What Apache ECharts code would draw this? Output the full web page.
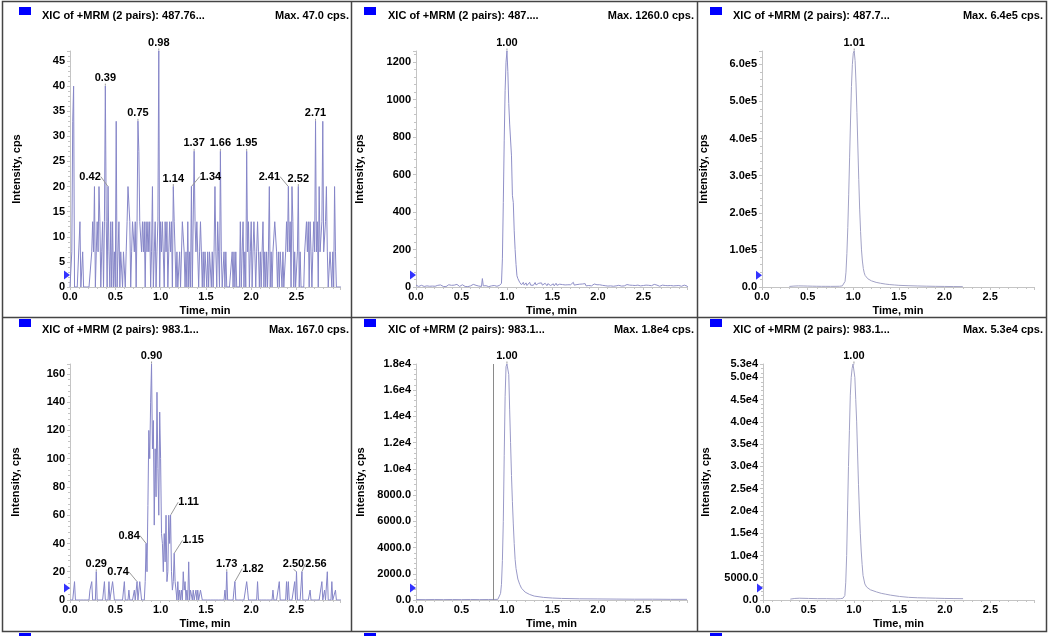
<!DOCTYPE html>
<html><head><meta charset="utf-8">
<script src="https://cdn.jsdelivr.net/npm/echarts@6/dist/echarts.min.js"></script>
<style>html,body{margin:0;padding:0;background:#fff}#c{width:1050px;height:636px}</style>
</head><body><div id="c"></div>
<script>
// ---------- DATA ----------
const TIME_START = 0.00, TIME_STEP = 0.01;
const xTickLabels = ['0.0','0.5','1.0','1.5','2.0','2.5'];
const panelTitles = ['XIC of +MRM (2 pairs): 487.76...','XIC of +MRM (2 pairs): 487....','XIC of +MRM (2 pairs): 487.7...',
                     'XIC of +MRM (2 pairs): 983.1...','XIC of +MRM (2 pairs): 983.1...','XIC of +MRM (2 pairs): 983.1...'];
const panelMaxTexts = ['Max. 47.0 cps.','Max. 1260.0 cps.','Max. 6.4e5 cps.','Max. 167.0 cps.','Max. 1.8e4 cps.','Max. 5.3e4 cps.'];
const yMaxes = [47, 1260, 636000, 167, 18000, 53000];
const yIntervals = [5, 200, 100000, 20, 2000, 5000];
const thresholds = [2.4, 64, 32000, 8.5, 915, 2700];

// panel 1 (sampled every 0.01 min)
const p1Values = [].concat(
 [0,0,7,33,40,0,0,0,0,0],[0,13,0,0,7,0,0,0,0,0],[0,0,0,0,7,13,7,20,0,7],[13,7,20,13,0,7,13,0,13,40],
 [13,0,20,7,0,13,0,13,0,7],[0,33,0,7,13,0,7,7,0,7],[7,0,7,13,20,20,13,0,7,13],[13,7,13,0,13,33,27,13,13,7],
 [13,7,13,0,13,7,13,7,13,0],[7,20,0,7,13,0,7,13,47,0],[13,7,13,13,0,13,7,13,0,7],[13,7,13,0,20,13,7,0,7,0],
 [0,7,0,0,13,13,7,0,7,0],[13,0,7,0,20,0,0,27,13,7],[13,13,0,7,13,7,0,7,0,7],[7,0,7,0,7,7,0,7,0,7],
 [20,7,0,13,7,0,27,7,0,0],[7,0,7,0,0,0,0,0,0,7],[0,7,0,7,0,0,0,0,13,0],[7,13,0,7,0,27,7,13,0,7],
 [13,0,7,13,7,0,7,13,7,0],[7,0,7,13,0,7,0,7,0,7],[20,0,7,0,7,7,13,13,7,0],[7,0,7,7,0,7,0,0,7,13],
 [7,20,7,13,0,20,13,0,7,0],[0,7,20,0,7,0,0,0,0,7],[7,13,7,13,0,13,7,0,7,13],[7,33,7,13,0,20,7,7,13,33],
 [7,7,13,20,7,0,0,7,7,0],[7,0,20,7,0,0,0,0,0,0]);
const p1Peaks = [[0.39,40],[0.42,20],[0.75,33],[0.98,47],[1.14,20],[1.34,20],[1.37,27],[1.66,27],[1.95,27],[2.41,20],[2.52,20],[2.71,33]];

// panel 2 (sampled every 0.01 min)
const p2Values = [].concat(
 [10,5,8,3,6,2,9,4,7,3],[5,2,6,8,3,4,10,2,5,7],[15,4,6,3,9,5,2,11,4,6],[3,8,5,2,7,4,12,3,6,9],
 [4,6,10,3,5,14,4,7,3,8],[5,12,4,6,3,9,5,2,8,4],[6,3,7,14,4,5,9,3,6,5],[4,8,3,45,6,2,5,7,3,4],
 [2,5,3,6,2,4,8,3,5,4],[6,3,9,5,20,150,450,780,1050,1200],[1260,1150,980,870,860,700,490,450,300,200],
 [120,60,45,35,25,20,12,18,25,10],[15,22,8,18,12,25,10,16,20,9],[14,24,11,18,8,20,15,12,22,10],
 [16,9,20,13,7,18,11,15,8,14],[10,17,6,14,20,9,12,7,15,11],[8,13,18,6,11,15,9,12,7,16],
 [12,6,14,25,10,17,8,13,20,9],[15,11,7,16,9,13,18,6,12,10],[8,14,10,6,13,9,16,11,7,12],
 [10,6,12,8,15,9,5,11,7,13],[9,5,11,14,6,10,8,4,12,7],[6,10,4,9,7,12,5,8,11,6],[9,5,13,7,4,10,18,6,9,12],
 [14,8,16,5,10,7,12,6,11,4],[8,12,5,10,15,6,9,13,4,7],[11,6,14,8,5,10,7,12,4,9],[6,10,5,13,8,4,11,7,9,5],
 [8,4,10,6,12,5,7,9,4,8],[5,9,4,7,6,10,3,8,5,0]);
const p2Peaks = [[1.00,1260]];

// panel 3
const p3Times = [0.30,0.35,0.40,0.45,0.50,0.55,0.60,0.65,0.70,0.75,0.80,0.85,0.88,0.90,0.91,0.92,0.93,0.94,0.95,0.96,0.97,0.98,0.99,1.00,1.01,1.02,1.03,1.04,1.05,1.06,1.07,1.08,1.09,1.10,1.11,1.12,1.13,1.14,1.16,1.18,1.20,1.25,1.30,1.35,1.40,1.45,1.50,1.60,1.70,1.80,1.90,2.00,2.10,2.20];
const p3Values = [1500,2500,3000,2800,2500,2200,2000,1800,1800,1700,1800,2000,3000,6000,15000,40000,90000,160000,250000,350000,450000,540000,600000,630000,636000,610000,550000,470000,380000,290000,210000,150000,100000,70000,50000,38000,31000,27000,22000,19000,16500,12500,10000,8000,6500,5500,4500,3500,2800,2200,1800,1500,1200,1000];
const p3Peaks = [[1.01,636000]];

// panel 4 (sampled every 0.01 min)
const p4Values = [].concat(
 [0,0,0,0,0,13,0,0,0,0],[0,0,0,0,0,0,0,0,0,0],[0,0,7,7,13,0,0,0,0,20],[0,0,0,0,0,0,0,0,13,0],
 [0,0,0,13,0,0,0,13,7,0],[0,0,0,0,0,0,0,0,0,0],[13,0,0,0,0,7,0,0,0,0],[0,7,0,0,13,0,0,13,13,0],
 [0,0,0,13,40,20,67,120,100,140],[167,107,127,53,107,73,147,93,60,133],[100,47,40,20,47,27,60,13,20,60],
 [40,60,20,7,13,33,13,7,0,13],[0,7,0,7,0,20,7,13,0,7],[0,27,0,7,7,0,7,0,0,7],[0,7,0,0,7,7,0,0,0,0],
 [0,0,0,0,0,0,0,0,0,0],[0,0,0,0,0,0,0,0,0,0],[0,7,0,20,0,0,0,0,0,0],[0,7,13,0,0,0,0,0,0,0],
 [0,0,0,0,0,13,7,0,0,0],[0,0,0,0,0,0,0,13,0,0],[0,0,0,0,0,0,0,0,0,0],[0,0,0,0,7,0,0,0,0,0],
 [0,13,0,0,0,0,0,0,0,13],[0,13,0,0,0,0,0,0,13,0],[20,0,0,0,0,0,20,0,0,0],[0,0,0,0,0,7,0,0,0,0],
 [0,0,0,0,0,0,0,0,13,0],[0,7,0,0,20,0,0,0,0,13],[0,0,0,7,0,0,0,0,0,0]);
const p4Peaks = [[0.29,20],[0.74,13],[0.84,40],[0.90,167],[1.11,60],[1.15,33],[1.73,20],[1.82,13],[2.50,20],[2.56,20]];

// panel 5
const p5Times = [0.00,0.10,0.20,0.30,0.40,0.50,0.60,0.70,0.80,0.85,0.90,0.92,0.93,0.94,0.95,0.96,0.97,0.98,0.99,1.00,1.01,1.02,1.03,1.04,1.05,1.06,1.07,1.08,1.09,1.10,1.12,1.14,1.16,1.18,1.20,1.25,1.30,1.40,1.50,1.60,1.80,2.00,2.20,2.40,2.60,2.80,2.98];
const p5Values = [40,30,40,30,40,30,40,30,40,40,50,200,500,1200,3000,6000,11000,15500,17800,18000,17900,17200,14500,12000,9500,7500,5800,4300,3100,2400,1600,1200,900,750,600,420,300,200,150,120,90,80,70,60,60,50,50];
const p5Marker = 0.855;
const p5Peaks = [[1.00,18000]];

// panel 6
const p6Times = [0.30,0.35,0.40,0.50,0.60,0.70,0.80,0.85,0.88,0.90,0.91,0.92,0.93,0.94,0.95,0.96,0.97,0.98,0.99,1.00,1.01,1.02,1.03,1.04,1.05,1.06,1.07,1.08,1.09,1.10,1.12,1.14,1.16,1.18,1.20,1.25,1.30,1.35,1.40,1.50,1.60,1.70,1.80,1.90,2.00,2.10,2.20];
const p6Values = [200,350,400,350,300,300,250,300,400,1000,4000,10000,20000,30000,38000,46000,50000,52000,53000,53000,50000,45000,40000,33000,26000,20000,15000,11000,8000,5500,3600,2900,2500,2300,2100,1800,1500,1300,1100,800,600,500,450,400,350,320,300];
const p6Peaks = [[1.00,53000]];

// ---------- BUILD ----------
function sampled(vals){ return vals.map((v,i)=>[+(TIME_START + i*TIME_STEP).toFixed(2), v]); }
function paired(ts, vs){ return ts.map((t,i)=>[t, vs[i]]); }
const traces = [sampled(p1Values), sampled(p2Values), paired(p3Times,p3Values), sampled(p4Values), paired(p5Times,p5Values), paired(p6Times,p6Values)];
const peaks = [p1Peaks, p2Peaks, p3Peaks, p4Peaks, p5Peaks, p6Peaks];

// layout (pixels)
const grids = [
 {left:70, top:51, width:270, height:236},
 {left:416,top:51, width:271, height:236},
 {left:762,top:51, width:272, height:236},
 {left:70, top:364,width:270, height:236},
 {left:416,top:364,width:271, height:236},
 {left:763,top:364,width:271, height:236}];
const yNameGaps = [48, 51, 53, 49, 50, 52];
const showMaxY = [false,false,false,false,true,true];
const titleLeft = [42, 388, 733, 42, 388, 733];
const titleRight = [701, 356, 7, 701, 356, 7];
const titleTop = [9, 9, 9, 323, 323, 323];
const squareX = [19, 364, 710];
const labelShift = { // panel index -> {time: [dx,dy]}
 0:{'0.42':[-18,-2],'1.34':[19,-2],'2.41':[-19,-2]},
 3:{'0.74':[-19,-2],'0.84':[-17,0],'1.11':[18,-5],'1.15':[19,-5],'1.82':[18,-5],'2.50':[-3,0],'2.56':[14,0]}
};
const traceColors = ['#8686c8','#9090c8','#a2a2c6','#8686c8','#9a9ac8','#a2a2c6'];

const FONT = '"Liberation Sans", Arial, sans-serif';
const AX = '#c4c4c4';

function yFmt(i){
  return function(v){
    if (i===2) return v===0 ? '0.0' : (v/1e5).toFixed(1)+'e5';
    if (i===4 || i===5) return v>=1e4 ? (v/1e4).toFixed(1)+'e4' : v.toFixed(1);
    return String(Math.round(v));
  };
}

const option = {animation:false, backgroundColor:'#fff', grid:grids, xAxis:[], yAxis:[], series:[], title:[], graphic:[]};
for (let i=0;i<6;i++){
  option.xAxis.push({gridIndex:i, type:'value', min:0, max:2.98, interval:0.5,
    name:'Time, min', nameLocation:'middle', nameGap:18,
    nameTextStyle:{fontFamily:FONT,fontWeight:'bold',fontSize:11,color:'#000'},
    axisLine:{lineStyle:{color:AX}}, axisTick:{show:true,length:3,lineStyle:{color:AX}},
    minorTick:{show:true,splitNumber:5,length:2,lineStyle:{color:AX}},
    splitLine:{show:false},
    axisLabel:{fontFamily:FONT,fontWeight:'bold',fontSize:11,color:'#000',margin:4,showMaxLabel:false,
      formatter:v=>{const s=v.toFixed(1); return xTickLabels.indexOf(s)>=0?s:'';}}});
  option.yAxis.push({gridIndex:i, type:'value', min:0, max:yMaxes[i], interval:yIntervals[i],
    name:'Intensity, cps', nameLocation:'middle', nameGap:yNameGaps[i],
    nameTextStyle:{fontFamily:FONT,fontWeight:'bold',fontSize:11,color:'#000'},
    axisLine:{show:true,lineStyle:{color:AX}}, axisTick:{show:true,length:3,lineStyle:{color:AX}},
    minorTick:{show:true,splitNumber:5,length:2,lineStyle:{color:AX}},
    splitLine:{show:false},
    axisLabel:{fontFamily:FONT,fontWeight:'bold',fontSize:11,color:'#000',margin:5,showMaxLabel:showMaxY[i],formatter:yFmt(i)}});
  const col = traceColors[i];
  const s = {type:'line', xAxisIndex:i, yAxisIndex:i, data:traces[i], showSymbol:false, symbol:'none',
    lineStyle:{color:col,width:1}, itemStyle:{color:col}, silent:true, z:2};
  if (i===4){
    s.markLine = {silent:true, symbol:'none', label:{show:false}, lineStyle:{color:'#8a8a8a',type:'solid',width:1},
      data:[{xAxis:p5Marker}]};
  }
  option.series.push(s);
  const shifts = labelShift[i] || {};
  const pk = peaks[i];
  option.series.push({type:'scatter', xAxisIndex:i, yAxisIndex:i, data:pk, symbolSize:1, clip:false, z:5, silent:true,
    itemStyle:{color:col},
    label:{show:true, position:'top', distance:2, fontFamily:FONT, fontWeight:'bold', fontSize:11, color:'#000',
      textBorderWidth:0, opacity:1, formatter:p=>p.value[0].toFixed(2)},
    labelLine:{show:true, lineStyle:{color:'#999',width:1}},
    labelLayout:function(params){
      const key = pk[params.dataIndex][0].toFixed(2);
      const sh = shifts[key];
      return sh ? {dx:sh[0], dy:sh[1]} : {};
    }});
  option.series.push({type:'scatter', xAxisIndex:i, yAxisIndex:i, data:[[0,thresholds[i]]], symbol:'triangle',
    symbolRotate:-90, symbolSize:[9,6], symbolOffset:[-3,0], clip:false, itemStyle:{color:'#0000ff'}, z:6, silent:true});
  option.title.push({text:panelTitles[i], left:titleLeft[i], top:titleTop[i], padding:0,
    textStyle:{fontFamily:FONT,fontWeight:'bold',fontSize:11,color:'#000',lineHeight:13}});
  option.title.push({text:panelMaxTexts[i], right:titleRight[i], top:titleTop[i], padding:0,
    textStyle:{fontFamily:FONT,fontWeight:'bold',fontSize:11,color:'#000',lineHeight:13}});
}
// frame and panel dividers
const frame = {stroke:'#444', lineWidth:1.5};
option.graphic.push({type:'rect', shape:{x:2.5,y:1.5,width:1044,height:630}, style:{fill:'none', stroke:'#444', lineWidth:1.5}, silent:true});
option.graphic.push({type:'line', shape:{x1:351.5,y1:1,x2:351.5,y2:632}, style:frame, silent:true});
option.graphic.push({type:'line', shape:{x1:697.5,y1:1,x2:697.5,y2:632}, style:frame, silent:true});
option.graphic.push({type:'line', shape:{x1:2,y1:317.5,x2:1047,y2:317.5}, style:frame, silent:true});
// legend squares
[7, 319, 633].forEach(y=>squareX.forEach(x=>{
  option.graphic.push({type:'rect', shape:{x:x,y:y,width:12,height:8}, style:{fill:'#0000ff'}, silent:true, z:10});
}));

const chart = echarts.init(document.getElementById('c'), null, {renderer:'canvas'});
chart.setOption(option);
</script></body></html>
